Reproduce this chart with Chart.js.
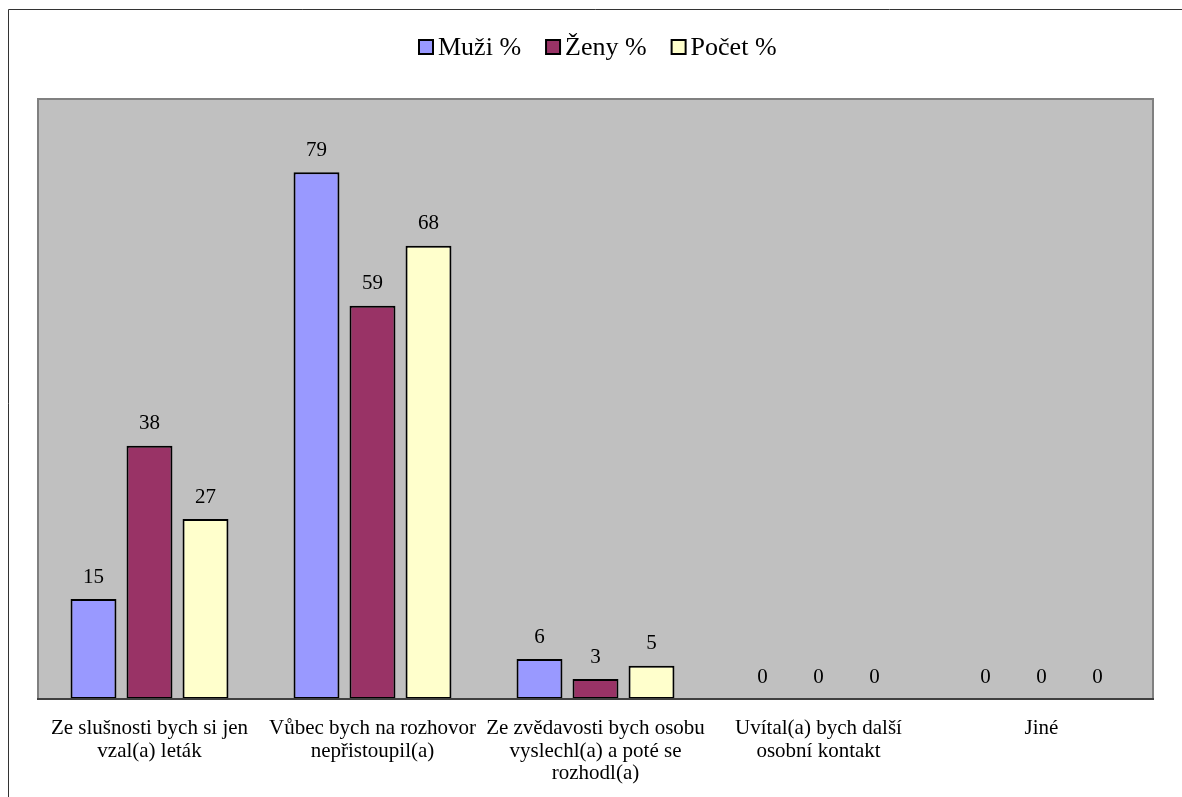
<!DOCTYPE html>
<html>
<head>
<meta charset="utf-8">
<script src="https://cdn.jsdelivr.net/npm/chart.js@4.4.0/dist/chart.umd.min.js"></script>
<style>
  html, body { margin: 0; padding: 0; background: #ffffff; }
  #wrap { width: 1182px; height: 797px; position: relative; }
</style>
</head>
<body>
<div id="wrap"><canvas id="c" width="1182" height="797"></canvas></div>
<script>
const categories = [
  ["Ze slušnosti bych si jen", "vzal(a) leták"],
  ["Vůbec bych na rozhovor", "nepřistoupil(a)"],
  ["Ze zvědavosti bych osobu", "vyslechl(a) a poté se", "rozhodl(a)"],
  ["Uvítal(a) bych další", "osobní kontakt"],
  ["Jiné"]
];
const seriesNames = ["Muži %", "Ženy %", "Počet %"];
const muzi = [15, 79, 6, 0, 0];
const zeny = [38, 59, 3, 0, 0];
const pocet = [27, 68, 5, 0, 0];
const seriesColors = ["#9999FF", "#993366", "#FFFFCC"];

const FONT = "'Liberation Serif', 'Times New Roman', serif";

const bgPlugin = {
  id: 'bg',
  beforeDraw(chart) {
    const ctx = chart.ctx, a = chart.chartArea;
    ctx.save();
    ctx.strokeStyle = '#333333';
    ctx.lineWidth = 1;
    ctx.beginPath();
    ctx.moveTo(8.5, 800);
    ctx.lineTo(8.5, 9.5);
    ctx.lineTo(1190, 9.5);
    ctx.stroke();
    ctx.fillStyle = '#C0C0C0';
    ctx.fillRect(a.left, a.top, a.right - a.left, a.bottom - a.top);
    ctx.strokeStyle = '#808080';
    ctx.lineWidth = 2;
    ctx.strokeRect(a.left, a.top, a.right - a.left, a.bottom - a.top);
    ctx.restore();
  },
  afterDatasetsDraw(chart) {
    const ctx = chart.ctx, a = chart.chartArea;
    ctx.save();
    ctx.strokeStyle = '#404040';
    ctx.lineWidth = 2;
    ctx.beginPath();
    ctx.moveTo(a.left - 1, a.bottom);
    ctx.lineTo(a.right + 1, a.bottom);
    ctx.stroke();
    ctx.fillStyle = '#000';
    ctx.font = '21px ' + FONT;
    ctx.textAlign = 'center';
    ctx.textBaseline = 'middle';
    chart.data.datasets.forEach((ds, i) => {
      const meta = chart.getDatasetMeta(i);
      meta.data.forEach((bar, j) => {
        ctx.fillText(String(ds.data[j]), bar.x, bar.y - 22);
      });
    });
    const items = chart.data.datasets.map(d => ({ label: d.label, color: d.backgroundColor }));
    ctx.font = '26px ' + FONT;
    ctx.textAlign = 'left';
    ctx.textBaseline = 'middle';
    const box = 14, gapBoxText = 5, gapItems = 25;
    let x = 419;
    const y = 47;
    items.forEach(it => {
      ctx.fillStyle = it.color;
      ctx.fillRect(x, y - box / 2, box, box);
      ctx.strokeStyle = '#000';
      ctx.lineWidth = 2;
      ctx.strokeRect(x, y - box / 2, box, box);
      ctx.fillStyle = '#000';
      ctx.fillText(it.label, x + box + gapBoxText, y + 1);
      x += box + gapBoxText + ctx.measureText(it.label).width + gapItems;
    });
    ctx.restore();
  }
};

new Chart(document.getElementById('c'), {
  type: 'bar',
  data: {
    labels: categories,
    datasets: [
      { label: seriesNames[0], data: muzi, backgroundColor: seriesColors[0] },
      { label: seriesNames[1], data: zeny, backgroundColor: seriesColors[1] },
      { label: seriesNames[2], data: pocet, backgroundColor: seriesColors[2] }
    ].map(d => Object.assign(d, {
      borderColor: '#000000',
      borderWidth: 2,
      borderSkipped: false,
      categoryPercentage: 0.7534,
      barPercentage: 0.82
    }))
  },
  options: {
    responsive: false,
    animation: false,
    devicePixelRatio: 1,
    layout: { padding: { left: 38, right: 29, top: 99, bottom: 0 } },
    plugins: { legend: { display: false }, tooltip: { enabled: false } },
    scales: {
      y: { display: false, min: 0, max: 90 },
      x: {
        grid: { display: false, drawTicks: false },
        border: { display: false },
        ticks: {
          color: '#000',
          font: { family: FONT, size: 21, lineHeight: 1.08 },
          padding: 18,
          maxRotation: 0,
          autoSkip: false
        },
        afterFit(scale) { scale.height = 98; }
      }
    }
  },
  plugins: [bgPlugin]
});
</script>
</body>
</html>
